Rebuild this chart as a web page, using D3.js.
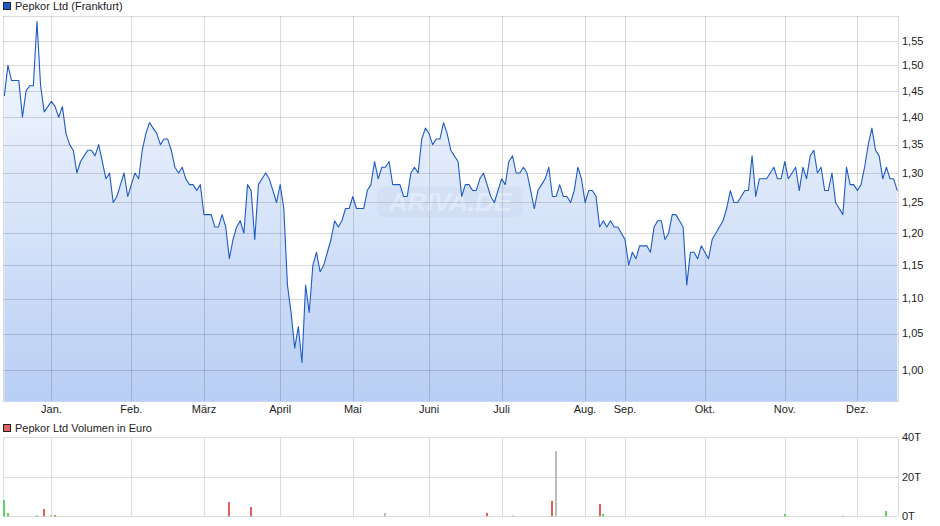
<!DOCTYPE html>
<html>
<head>
<meta charset="utf-8">
<script src="https://cdn.jsdelivr.net/npm/d3@7/dist/d3.min.js"></script>
<style>
  html, body { margin: 0; padding: 0; background: #fff; }
  svg { display: block; }
  text { font-family: "Liberation Sans", Arial, sans-serif; font-size: 11px; fill: #222; }
</style>
</head>
<body>
<svg id="chart" width="940" height="526"></svg>
<script>
// ---------- data ----------
const seriesName = "Pepkor Ltd (Frankfurt)";
const volumeName = "Pepkor Ltd Volumen in Euro";

const prices = [
  1.44,1.50,1.47,1.47,1.47,1.40,1.45,1.46,1.46,1.59,
  1.46,1.41,1.42,1.43,1.42,1.40,1.42,1.37,1.35,1.34,
  1.30,1.32,1.33,1.34,1.34,1.33,1.35,1.32,1.29,1.30,
  1.25,1.26,1.28,1.30,1.26,1.28,1.30,1.29,1.34,1.37,
  1.39,1.38,1.37,1.35,1.36,1.36,1.34,1.31,1.30,1.31,
  1.29,1.28,1.28,1.27,1.28,1.23,1.23,1.23,1.21,1.21,
  1.23,1.21,1.16,1.19,1.21,1.22,1.20,1.28,1.27,1.19,
  1.28,1.29,1.30,1.29,1.27,1.25,1.28,1.24,1.12,1.08,
  1.03,1.06,1.01,1.12,1.08,1.15,1.17,1.14,1.15,1.17,
  1.19,1.22,1.21,1.22,1.24,1.24,1.26,1.24,1.24,1.24,
  1.27,1.28,1.32,1.29,1.31,1.31,1.32,1.28,1.28,1.28,
  1.26,1.26,1.30,1.31,1.30,1.36,1.38,1.37,1.35,1.36,
  1.36,1.39,1.37,1.34,1.33,1.32,1.26,1.28,1.28,1.27,
  1.27,1.29,1.30,1.28,1.26,1.25,1.27,1.29,1.28,1.32,
  1.33,1.30,1.30,1.31,1.30,1.27,1.24,1.27,1.28,1.29,
  1.31,1.26,1.26,1.28,1.26,1.26,1.25,1.27,1.31,1.29,
  1.25,1.27,1.27,1.26,1.21,1.22,1.21,1.22,1.21,1.21,
  1.20,1.19,1.15,1.17,1.16,1.18,1.18,1.18,1.17,1.21,
  1.22,1.22,1.19,1.20,1.23,1.23,1.22,1.21,1.12,1.17,
  1.17,1.16,1.18,1.17,1.16,1.19,1.20,1.21,1.22,1.24,
  1.27,1.25,1.25,1.26,1.27,1.27,1.33,1.26,1.29,1.29,
  1.29,1.30,1.31,1.29,1.29,1.32,1.29,1.30,1.31,1.27,
  1.31,1.29,1.33,1.34,1.30,1.31,1.27,1.27,1.30,1.25,
  1.24,1.23,1.31,1.28,1.28,1.27,1.28,1.31,1.35,1.38,
  1.34,1.33,1.29,1.31,1.29,1.29,1.27
];

// month labels and the index of the first trading day of each month
const monthLabels = ["Jan.","Feb.","März","April","Mai","Juni","Juli","Aug.","Sep.","Okt.","Nov.","Dez."];
const monthIndex  = [13, 35, 55, 76, 96, 117, 137, 160, 171, 193, 215, 235];

const priceTicks = [1.00,1.05,1.10,1.15,1.20,1.25,1.30,1.35,1.40,1.45,1.50,1.55];

// volume (thousand euro) with day index and direction
const volIndex = [0, 1, 9, 11, 13, 14, 62, 68, 105, 133, 140, 151, 152, 164, 165, 215, 231, 243];
const volValue = [8.3, 1.7, 0.5, 3.7, 0.5, 0.6, 7.2, 4.7, 1.7, 1.7, 0.4, 7.8, 33, 6.2, 1.2, 1.2, 0.3, 2.7];
const volDir   = ["up","up","up","down","up","down","down","down","flat","down","up","down","flat","down","up","up","down","up"];
const volTicks = [0, 20, 40];

// ---------- layout ----------
const svg = d3.select("#chart");
const left = 3, right = 898;
const pTop = 16, pBottom = 401;
const vTop = 437.3, vBottom = 516.3;

const x = d3.scaleLinear().domain([0, prices.length - 1]).range([4.3, 897.3]);
const y = d3.scaleLog().domain([0.96, 1.6018]).range([pBottom, pTop]);
const yv = d3.scaleLinear().domain([0, 40]).range([vBottom, vTop]);

const fmt = d3.formatLocale({decimal: ",", thousands: ".", grouping: [3], currency: ["", "€"]}).format(".2f");

// gradient
const defs = svg.append("defs");
const grad = defs.append("linearGradient").attr("id", "areaGrad")
  .attr("gradientUnits", "userSpaceOnUse").attr("x1", 0).attr("x2", 0).attr("y1", pTop).attr("y2", pBottom);
grad.append("stop").attr("offset", "0%").attr("stop-color", "#f9fbff");
grad.append("stop").attr("offset", "100%").attr("stop-color", "#b8cef4");

// ---------- price panel ----------
svg.append("rect").attr("x", left).attr("y", pTop).attr("width", right - left).attr("height", pBottom - pTop)
  .attr("fill", "#fff");

// area
const area = d3.area().x((d, i) => x(i)).y0(pBottom).y1(d => y(d));
svg.append("path").datum(prices).attr("d", area).attr("fill", "url(#areaGrad)");

// grid
const gridColor = "rgba(0,0,0,0.145)";
svg.append("g").selectAll("line").data(priceTicks).join("line")
  .attr("x1", left).attr("x2", right)
  .attr("y1", d => Math.round(y(d)) + 0.5).attr("y2", d => Math.round(y(d)) + 0.5)
  .attr("stroke", gridColor);
svg.append("line").attr("x1", left).attr("x2", right).attr("y1", pTop + 0.5).attr("y2", pTop + 0.5).attr("stroke", gridColor);
svg.append("g").selectAll("line").data(monthIndex).join("line")
  .attr("x1", d => Math.round(x(d)) + 0.5).attr("x2", d => Math.round(x(d)) + 0.5)
  .attr("y1", pTop).attr("y2", pBottom)
  .attr("stroke", gridColor);
svg.append("line").attr("x1", left + 0.5).attr("x2", left + 0.5).attr("y1", pTop).attr("y2", pBottom).attr("stroke", gridColor);
svg.append("line").attr("x1", right + 0.5).attr("x2", right + 0.5).attr("y1", pTop).attr("y2", pBottom).attr("stroke", gridColor);
svg.append("line").attr("x1", left).attr("x2", right + 1).attr("y1", pBottom + 0.5).attr("y2", pBottom + 0.5).attr("stroke", "#c9d9f3");

// watermark
const wm = svg.append("g").attr("opacity", 0.2);
wm.append("rect").attr("x", 377).attr("y", 187).attr("width", 146).attr("height", 30).attr("rx", 8)
  .attr("fill", "#b9c9e2");
wm.append("text").attr("x", 450).attr("y", 211).attr("text-anchor", "middle")
  .style("font-size", "26px").style("font-style", "italic").style("font-weight", "bold")
  .style("fill", "#ffffff").text("ARIVA.DE");

// line
const line = d3.line().x((d, i) => x(i)).y(d => y(d));
svg.append("path").datum(prices).attr("d", line).attr("fill", "none")
  .attr("stroke", "#1f5bc4").attr("stroke-width", 1.1).attr("stroke-linejoin", "round");

// right axis labels
svg.append("g").selectAll("text").data(priceTicks).join("text")
  .attr("x", 902).attr("y", d => y(d)).attr("dy", "0.35em")
  .text(d => fmt(d));

// month labels
svg.append("g").selectAll("text").data(monthIndex).join("text")
  .attr("x", d => x(d)).attr("y", 413).attr("text-anchor", "middle")
  .text((d, i) => monthLabels[i]);

// legend 1
svg.append("rect").attr("x", 3.5).attr("y", 2.5).attr("width", 7).attr("height", 7)
  .attr("fill", "#1f5bc4").attr("stroke", "#222").attr("stroke-width", 1);
svg.append("text").attr("x", 15).attr("y", 10).text(seriesName);

// ---------- volume panel ----------
svg.append("rect").attr("x", 3.5).attr("y", 424.5).attr("width", 7).attr("height", 7)
  .attr("fill", "#e06666").attr("stroke", "#222").attr("stroke-width", 1);
svg.append("text").attr("x", 15).attr("y", 432).text(volumeName);

const vgrid = "#dcdcdc";
svg.append("g").selectAll("line").data(volTicks).join("line")
  .attr("x1", left).attr("x2", right)
  .attr("y1", d => Math.round(yv(d)) + 0.5).attr("y2", d => Math.round(yv(d)) + 0.5)
  .attr("stroke", vgrid);
svg.append("g").selectAll("line").data(monthIndex).join("line")
  .attr("x1", d => Math.round(x(d)) + 0.5).attr("x2", d => Math.round(x(d)) + 0.5)
  .attr("y1", vTop).attr("y2", vBottom)
  .attr("stroke", vgrid);
svg.append("line").attr("x1", left + 0.5).attr("x2", left + 0.5).attr("y1", vTop).attr("y2", vBottom).attr("stroke", vgrid);
svg.append("line").attr("x1", right + 0.5).attr("x2", right + 0.5).attr("y1", vTop).attr("y2", vBottom).attr("stroke", vgrid);

const dirColor = {up: "#5fd35f", down: "#e06060", flat: "#bdbdbd"};
svg.append("g").selectAll("rect").data(volValue).join("rect")
  .attr("x", (d, i) => Math.round(x(volIndex[i])) - 1)
  .attr("y", d => yv(d))
  .attr("width", 2)
  .attr("height", d => yv(0) - yv(d))
  .attr("fill", (d, i) => dirColor[volDir[i]]);

svg.append("g").selectAll("text").data(volTicks).join("text")
  .attr("x", 902).attr("y", d => yv(d)).attr("dy", "0.35em")
  .text(d => d + "T");
</script>
</body>
</html>
